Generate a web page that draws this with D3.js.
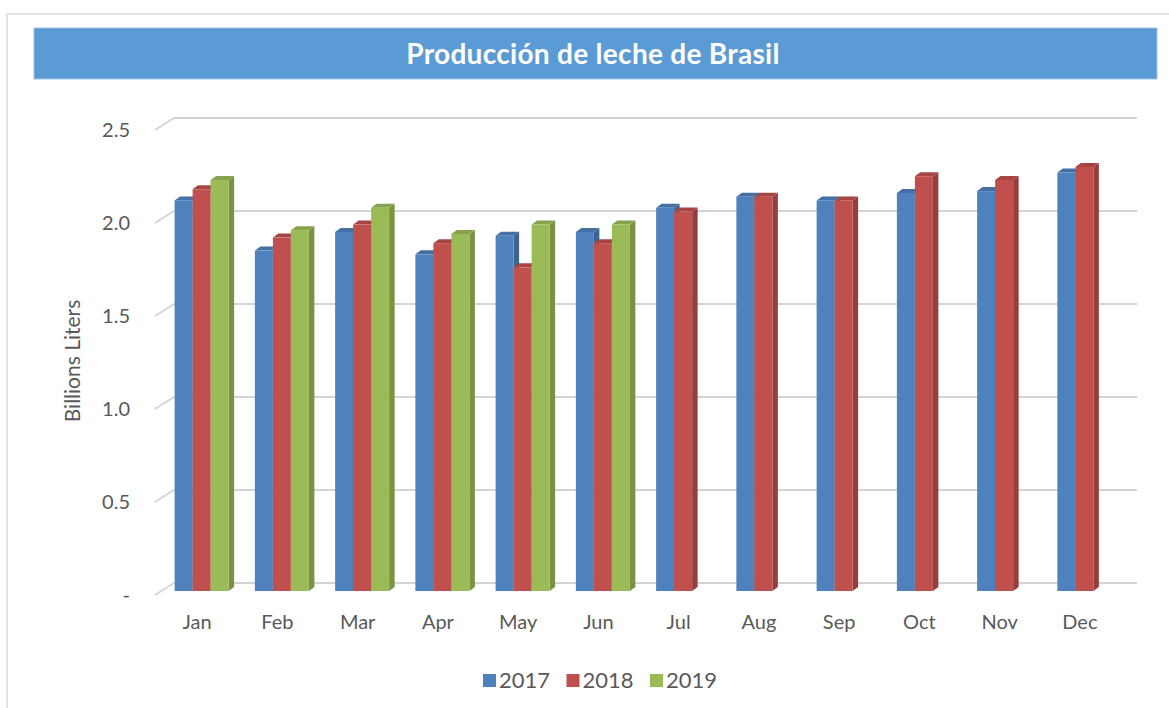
<!DOCTYPE html>
<html>
<head>
<meta charset="utf-8">
<script src="https://cdn.jsdelivr.net/npm/d3@7"></script>
<style>
  body { margin: 0; background: #fff; }
  text { font-family: Lato, "Open Sans", sans-serif; }
</style>
</head>
<body>
<svg id="chart" width="1169" height="708"></svg>
<script>
const months = ['Jan', 'Feb', 'Mar', 'Apr', 'May', 'Jun', 'Jul', 'Aug', 'Sep', 'Oct', 'Nov', 'Dec'];
const years = ['2017', '2018', '2019'];
const values2017 = [2.10, 1.83, 1.93, 1.81, 1.91, 1.93, 2.06, 2.12, 2.10, 2.14, 2.15, 2.25];
const values2018 = [2.16, 1.90, 1.97, 1.87, 1.74, 1.87, 2.04, 2.12, 2.10, 2.23, 2.21, 2.28];
const values2019 = [2.21, 1.94, 2.06, 1.92, 1.97, 1.97, null, null, null, null, null, null];
const yTicks = [0, 0.5, 1.0, 1.5, 2.0, 2.5];
const yTickLabels = ['-', '0.5', '1.0', '1.5', '2.0', '2.5'];
const colours = ['#4f81bd', '#c0504d', '#9bbb59'];

const seriesValues = [values2017, values2018, values2019];
const rows = months.map((m, i) => ({
  month: m,
  vals: years.map((yr, j) => ({ year: yr, idx: j, value: seriesValues[j][i] })),
}));

// oblique depth of the 3d plot (back wall shift) and of the bars
const depth = { dx: 17, dy: -12 };
const barFront = { dx: 4.5, dy: -4 };
const barDepth = { dx: 5.5, dy: -4 };

const svg = d3.select('#chart');

// frame + title band
svg.append('rect')
  .attr('x', 7).attr('y', 14)
  .attr('width', 1180).attr('height', 720)
  .attr('fill', '#fff')
  .attr('stroke', '#e3e3e3')
  .attr('stroke-width', 2);

svg.append('rect')
  .attr('x', 34).attr('y', 28)
  .attr('width', 1123).attr('height', 51)
  .attr('fill', '#5b9bd5')
  .attr('stroke', '#9dc3e6')
  .attr('stroke-width', 1);

svg.append('text')
  .attr('x', 593).attr('y', 54)
  .attr('dy', '0.35em')
  .attr('text-anchor', 'middle')
  .attr('fill', '#fff')
  .style('font-weight', 'bold')
  .style('font-size', '28px')
  .style('letter-spacing', '0.3px')
  .text('Producción de leche de Brasil');

const x0 = d3.scaleBand()
  .domain(months)
  .range([157, 1120])
  .paddingInner(0.327)
  .paddingOuter(0.1635);

const x1 = d3.scaleBand()
  .domain(years)
  .range([0, x0.bandwidth()]);

const y = d3.scaleLinear()
  .domain([0, 2.5])
  .range([595, 130]);

// gridlines on the back wall with stubs on the side wall
const grid = svg.append('g').attr('class', 'grid');
grid.selectAll('.wall')
  .data(yTicks)
  .enter()
  .append('line')
  .attr('x1', x0.range()[0] + depth.dx)
  .attr('x2', x0.range()[1] + depth.dx)
  .attr('y1', d => y(d) + depth.dy)
  .attr('y2', d => y(d) + depth.dy)
  .attr('stroke', '#d4d4d4')
  .attr('stroke-width', 2);
grid.selectAll('.stub')
  .data(yTicks)
  .enter()
  .append('line')
  .attr('x1', x0.range()[0] - 2)
  .attr('x2', x0.range()[0] + depth.dx)
  .attr('y1', d => y(d))
  .attr('y2', d => y(d) + depth.dy)
  .attr('stroke', '#d4d4d4')
  .attr('stroke-width', 2);

// y tick labels
svg.append('g')
  .selectAll('text')
  .data(yTicks)
  .enter()
  .append('text')
  .attr('x', 130)
  .attr('y', d => y(d))
  .attr('dy', '0.35em')
  .attr('text-anchor', 'end')
  .attr('fill', '#595959')
  .style('font-size', '20px')
  .text((d, i) => yTickLabels[i]);

svg.append('text')
  .attr('transform', 'translate(80, 361) rotate(-90)')
  .attr('text-anchor', 'middle')
  .attr('fill', '#595959')
  .style('font-size', '21px')
  .text('Billions Liters');

// bars: front face, top face, right side face
const shade = (c, k) => d3.color(c).darker(k).formatHex();

const groups = svg.append('g')
  .selectAll('.group')
  .data(rows)
  .enter()
  .append('g')
  .attr('class', 'group')
  .attr('transform', d => `translate(${x0(d.month) + barFront.dx}, ${barFront.dy})`);

const bars = groups.selectAll('.bar')
  .data(d => d.vals.filter(v => v.value != null))
  .enter()
  .append('g')
  .attr('class', 'bar');

bars.append('path')
  .attr('fill', d => shade(colours[d.idx], 0.7))
  .attr('d', (d) => {
    const xr = x1(d.year) + x1.bandwidth();
    const yt = y(d.value);
    const yb = y(0);
    return `M${xr},${yt}L${xr + barDepth.dx},${yt + barDepth.dy}L${xr + barDepth.dx},${yb + barDepth.dy}L${xr},${yb}Z`;
  });

bars.append('path')
  .attr('fill', d => shade(colours[d.idx], 0.4))
  .attr('d', (d) => {
    const xl = x1(d.year);
    const xr = xl + x1.bandwidth();
    const yt = y(d.value);
    return `M${xl},${yt}L${xl + barDepth.dx},${yt + barDepth.dy}L${xr + barDepth.dx},${yt + barDepth.dy}L${xr},${yt}Z`;
  });

bars.append('rect')
  .attr('x', d => x1(d.year))
  .attr('y', d => y(d.value))
  .attr('width', x1.bandwidth())
  .attr('height', d => y(0) - y(d.value))
  .attr('fill', d => colours[d.idx]);

// month labels
svg.append('g')
  .selectAll('text')
  .data(months)
  .enter()
  .append('text')
  .attr('x', d => x0(d) + x0.bandwidth() / 2)
  .attr('y', 622)
  .attr('dy', '0.35em')
  .attr('text-anchor', 'middle')
  .attr('fill', '#595959')
  .style('font-size', '20px')
  .text(d => d);

// legend
const legendX = d3.scalePoint()
  .domain(years)
  .range([483, 650]);

const legend = svg.append('g')
  .selectAll('.legend')
  .data(years)
  .enter()
  .append('g')
  .attr('class', 'legend')
  .attr('transform', d => `translate(${legendX(d)}, 680)`);

legend.append('rect')
  .attr('x', 0).attr('y', -6)
  .attr('width', 13).attr('height', 13)
  .attr('fill', (d, i) => colours[i]);

legend.append('text')
  .attr('x', 16)
  .attr('dy', '0.35em')
  .attr('fill', '#595959')
  .style('font-size', '22px')
  .text(d => d);
</script>
</body>
</html>
